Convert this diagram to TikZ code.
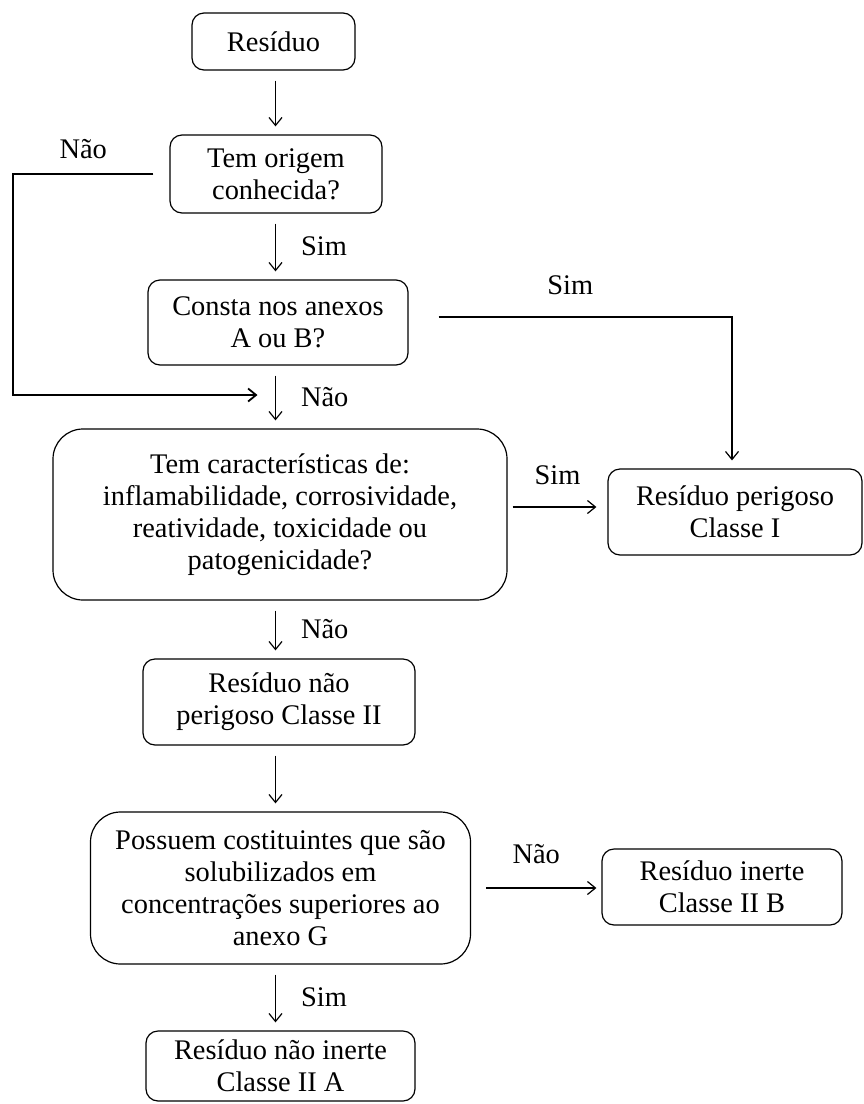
\documentclass[tikz,border=0pt]{standalone}
\usepackage{fontspec}
\setmainfont{Liberation Serif}
\usetikzlibrary{arrows.meta}

\begin{document}
\begin{tikzpicture}[x=0.5pt,y=-0.5pt,
    font=\fontsize{14.2}{16}\selectfont,
    >={Straight Barb[length=4pt,width=6.5pt]},
    box/.style={draw, rounded corners=6pt, align=center, inner sep=0pt, line width=0.6pt},
    bigbox/.style={box, rounded corners=15pt},
    flow/.style={->, line width=0.6pt, shorten <=5pt, shorten >=4pt},
    lbl/.style={inner sep=0pt}]

      \useasboundingbox (0,0) rectangle (863,1104);

      \node[box, minimum width=81.5pt, minimum height=28.5pt] (res) at (273.5,41.5) {Resíduo};
      \node[box, minimum width=106pt, minimum height=39pt] (origem) at (276,174) {Tem origem\\conhecida?};
      \node[box, minimum width=130pt, minimum height=42.5pt] (anexos) at (278,322.5) {Consta nos anexos\\A ou B?};
      \node[bigbox, minimum width=227pt, minimum height=85.5pt] (caract) at (280,514.5)
        {Tem características de:\\inflamabilidade, corrosividade,\\reatividade, toxicidade ou\\patogenicidade?};
      \node[box, minimum width=127pt, minimum height=43pt] (perig) at (735,512) {Resíduo perigoso\\Classe I};
      \node[box, minimum width=136pt, minimum height=43pt] (naoperig) at (279,702) {Resíduo não\\perigoso Classe II};
      \node[bigbox, minimum width=190pt, minimum height=76pt] (solub) at (280.5,888)
        {Possuem costituintes que são\\solubilizados em\\concentrações superiores ao\\anexo G};
      \node[box, minimum width=120pt, minimum height=38pt] (inerte) at (722,887) {Resíduo inerte\\Classe II B};
      \node[box, minimum width=134.5pt, minimum height=35pt] (naoinerte) at (280.5,1066) {Resíduo não inerte\\Classe II A};

      \coordinate (sp) at (275.5,0);
      \coordinate (esq) at (13,395);
      \coordinate (topo) at (732,317);

      \draw[flow] (sp |- res.south) -- (sp |- origem.north);
      \draw[flow] (sp |- origem.south) -- node[lbl, right=12.5pt] {Sim} (sp |- anexos.north);
      \draw[flow] (sp |- anexos.south) -- node[lbl, right=12.5pt] {Não} (sp |- caract.north);
      \draw[flow] (sp |- caract.south) -- node[lbl, right=12.5pt] {Não} (sp |- naoperig.north);
      \draw[flow] (sp |- naoperig.south) -- (sp |- solub.north);
      \draw[flow] (sp |- solub.south) -- node[lbl, right=12.5pt] {Sim} (sp |- naoinerte.north);

      \draw[->, line width=0.9pt, shorten >=9pt] ([xshift=-8pt]origem.west) -| node[lbl, pos=0.25, above=7pt] {Não} (esq) -- (sp |- esq);
      \draw[flow, shorten <=15pt] (anexos.east |- topo) -- node[lbl, above=11pt] {Sim} (topo) -- (perig.north -| topo);
      \draw[flow, shorten <=2.5pt, shorten >=5.5pt] ([yshift=2.5pt]caract.east |- perig.west) -- node[lbl, above=11pt] {Sim} ([yshift=2.5pt]perig.west);
      \draw[flow, shorten <=7.5pt, shorten >=2.5pt] (solub.east) -- node[lbl, above=12pt] {Não} (solub.east -| inerte.west);
    \end{tikzpicture}
\end{document}
